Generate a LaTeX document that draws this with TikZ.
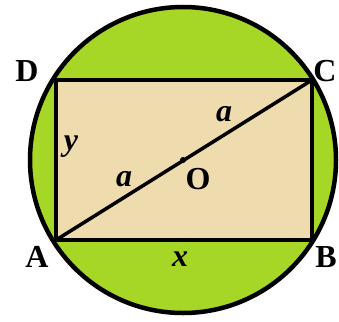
\documentclass[tikz,border=0pt]{standalone}
\usepackage{fontspec}
\setmainfont{Liberation Serif}
\definecolor{disc}{RGB}{166,214,38}
\definecolor{paper}{RGB}{238,220,175}
\begin{document}
\begin{tikzpicture}[x=1pt,y=-1pt,
  lbl/.style={inner sep=0pt,font=\fontsize{32}{32}\selectfont\bfseries},
  var/.style={inner sep=0pt,font=\fontsize{32}{32}\selectfont\bfseries\itshape}]
\useasboundingbox (0,0) rectangle (339,321);
\coordinate (O) at (183,160);
\coordinate (A) at (56,240);
\coordinate (B) at (312,240);
\coordinate (C) at (312,80);
\coordinate (D) at (56,80);
\draw[line width=4.5pt,fill=disc] (O) circle[radius=153];
\draw[line width=4.5pt,fill=paper] (A) -- (B) -- (C) -- (D) -- cycle;
\draw[line width=3.5pt] (A) -- (C);
\fill (O) circle[radius=3];
\node[lbl] (lD) at (27,71) {D};
\node[lbl] (lC) at (325,71) {C};
\node[lbl] (lA) at (37,257) {A};
\node[lbl] (lB) at (326,257) {B};
\node[lbl] (lO) at (198,179) {O};
\node[var] (ly) at (71,147) {y};
\node[var] (lx) at (180,259) {x};
\node[var] (la1) at (224,114) {a};
\node[var] (la2) at (124,179) {a};
\end{tikzpicture}
\end{document}
